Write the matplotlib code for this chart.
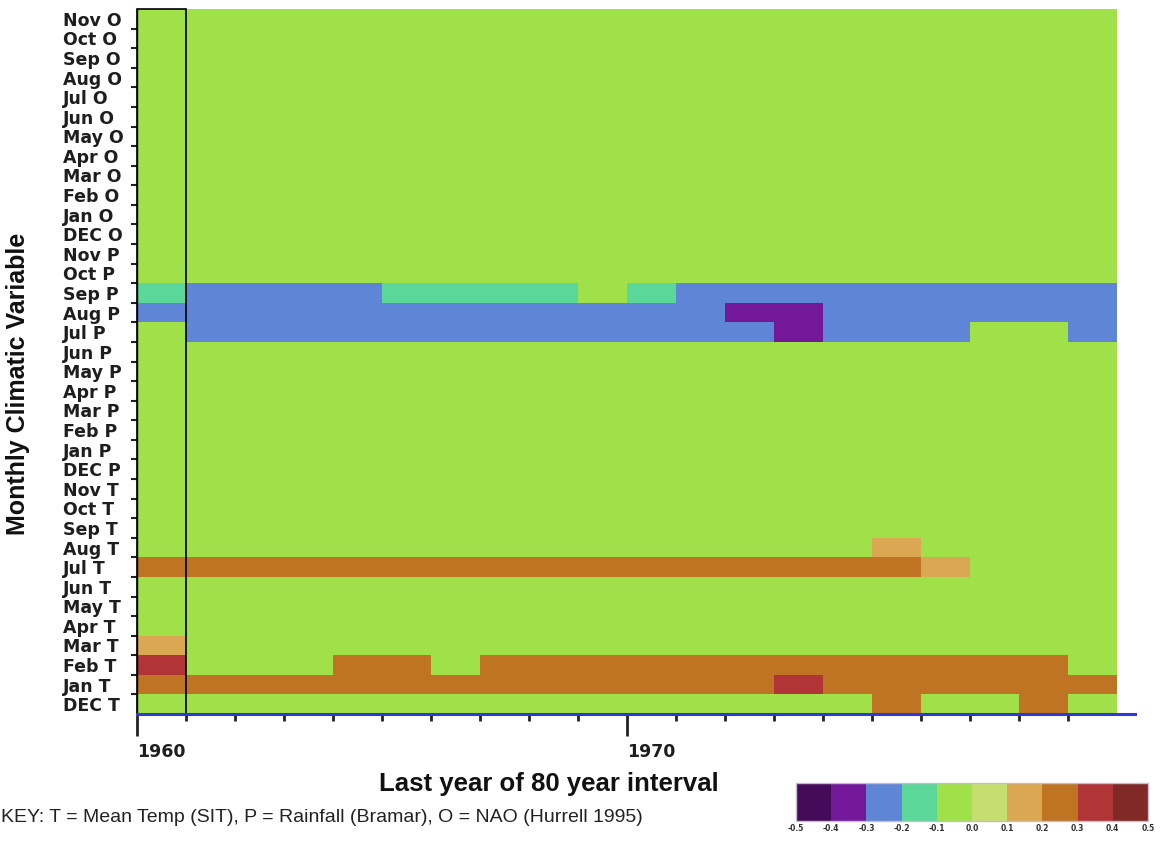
import numpy as np
import matplotlib
matplotlib.use("Agg")
import matplotlib.pyplot as plt
from matplotlib.colors import ListedColormap, BoundaryNorm
from matplotlib.patches import Rectangle
from matplotlib.ticker import FixedLocator

# ---- data -------------------------------------------------------------
years = list(range(1960, 1980))          # last year of each 80-year window
row_labels = [                            # bottom -> top
    "DEC T", "Jan T", "Feb T", "Mar T", "Apr T", "May T", "Jun T", "Jul T",
    "Aug T", "Sep T", "Oct T", "Nov T",
    "DEC P", "Jan P", "Feb P", "Mar P", "Apr P", "May P", "Jun P", "Jul P",
    "Aug P", "Sep P", "Oct P", "Nov P",
    "DEC O", "Jan O", "Feb O", "Mar O", "Apr O", "May O", "Jun O", "Jul O",
    "Aug O", "Sep O", "Oct O", "Nov O",
]
background = -0.05

dec_t = [-0.05]*15 + [0.25] + [-0.05]*2 + [0.25] + [-0.05]
jan_t = [0.25]*13 + [0.35] + [0.25]*6
feb_t = [0.35] + [-0.05]*3 + [0.25]*2 + [-0.05] + [0.25]*12 + [-0.05]
mar_t = [0.15] + [-0.05]*19
jul_t = [0.25]*16 + [0.15] + [-0.05]*3
aug_t = [-0.05]*15 + [0.15] + [-0.05]*4
jul_p = [-0.05] + [-0.25]*12 + [-0.35] + [-0.25]*3 + [-0.05]*2 + [-0.25]
aug_p = [-0.25]*12 + [-0.35]*2 + [-0.25]*6
sep_p = [-0.15] + [-0.25]*4 + [-0.15]*4 + [-0.05] + [-0.15] + [-0.25]*9

bin_edges = [-0.5, -0.4, -0.3, -0.2, -0.1, 0.0, 0.1, 0.2, 0.3, 0.4, 0.5]
bin_colors = ["#440b5a", "#74189a", "#5f85d6", "#5cd79a", "#a0e14a",
              "#c4de70", "#daa753", "#be7423", "#b13436", "#7f2a24"]

# ---- grid -------------------------------------------------------------
grid = np.full((len(row_labels), len(years)), background)
special = {"DEC T": dec_t, "Jan T": jan_t, "Feb T": feb_t, "Mar T": mar_t,
           "Jul T": jul_t, "Aug T": aug_t, "Jul P": jul_p, "Aug P": aug_p,
           "Sep P": sep_p}
for name, vals in special.items():
    grid[row_labels.index(name)] = vals

cmap = ListedColormap(bin_colors)
norm = BoundaryNorm(bin_edges, cmap.N)

W, H = 1173, 841
fig = plt.figure(figsize=(W/100, H/100), dpi=100)
fig.patch.set_facecolor("white")

ax = fig.add_axes([137/W, 1 - 714/H, (1135-137)/W, (714-9)/H])
x_edges = np.arange(years[0], years[-1] + 2)
y_edges = np.arange(len(row_labels) + 1)
ax.pcolormesh(x_edges, y_edges, grid, cmap=cmap, norm=norm,
              shading="flat", antialiased=False, linewidth=0)
ax.set_xlim(1960, 1980.37)
ax.set_ylim(0, len(row_labels))

# outline around the first window
ax.add_patch(Rectangle((1960, 0), 1, len(row_labels), fill=False,
                       edgecolor="black", lw=1.2, zorder=5, clip_on=False))

for s in ("top", "right"):
    ax.spines[s].set_visible(False)
ax.spines["left"].set_color("black")
ax.spines["left"].set_linewidth(1.0)
ax.spines["bottom"].set_color("#2d3ad6")
ax.spines["bottom"].set_linewidth(2.2)
ax.spines["bottom"].set_zorder(6)

# y axis: labels at row centres, ticks at row boundaries
ax.set_yticks(np.arange(len(row_labels)) + 0.5)
ax.set_yticklabels(row_labels, fontsize=12.5, fontweight="bold",
                   color="#1e1e1e", family="DejaVu Sans")
for lbl in ax.get_yticklabels():
    lbl.set_horizontalalignment("left")
ax.tick_params(axis="y", which="major", length=0, pad=53)
ax.yaxis.set_minor_locator(FixedLocator(np.arange(1, len(row_labels))))
ax.tick_params(axis="y", which="minor", length=4.5, width=1.5,
               color="#222222", direction="out")

# x axis: long ticks per decade, short ticks per year
ax.set_xticks([1960, 1970])
ax.set_xticklabels(["1960", "1970"], fontsize=12.5, fontweight="bold",
                   color="#1e1e1e")
for lbl in ax.get_xticklabels():
    lbl.set_horizontalalignment("left")
ax.xaxis.set_minor_locator(FixedLocator([y for y in range(1961, 1980) if y != 1970]))
ax.tick_params(axis="x", which="major", length=16, width=2, color="#222222", pad=5)
ax.tick_params(axis="x", which="minor", length=5, width=2, color="#222222")

fig.text(549/W, 1 - 784/H, "Last year of 80 year interval", ha="center",
         va="center", fontsize=18.5, fontweight="bold",
         family=["Liberation Sans", "DejaVu Sans"], color="#111111")
fig.text(18/W, 1 - 384/H, "Monthly Climatic Variable", ha="center",
         va="center", rotation=90, fontsize=18, fontweight="bold",
         family=["Liberation Sans", "DejaVu Sans"], color="#111111")
fig.text(1/W, 1 - 817/H,
         "KEY: T = Mean Temp (SIT), P = Rainfall (Bramar), O = NAO (Hurrell 1995)",
         ha="left", va="center", fontsize=14,
         family=["Liberation Sans Narrow", "Liberation Sans", "DejaVu Sans"],
         color="#222222")

# colour key
cax = fig.add_axes([796/W, 1 - 821/H, (1148-796)/W, (821-783)/H])
sm = matplotlib.cm.ScalarMappable(norm=norm, cmap=cmap)
cb = fig.colorbar(sm, cax=cax, orientation="horizontal",
                  boundaries=bin_edges, ticks=bin_edges)
cb.ax.set_xticklabels([f"{v:.1f}" for v in bin_edges], fontsize=5.5,
                      fontweight="bold", color="#333333")
cb.ax.tick_params(length=0, pad=2)
cb.outline.set_edgecolor("#c4bcd6")
cb.outline.set_linewidth(1.0)

fig.savefig("out.png", dpi=100)
